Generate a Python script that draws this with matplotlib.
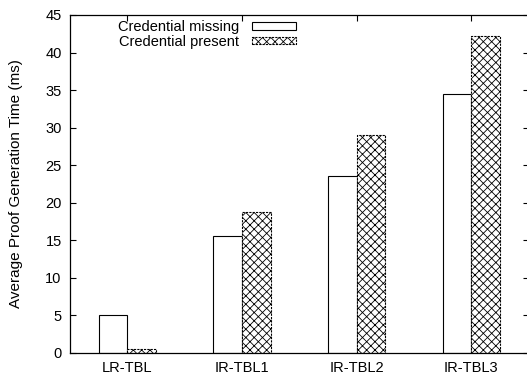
import numpy as np
import matplotlib
matplotlib.use('Agg')
import matplotlib.pyplot as plt

plt.rcParams['font.family'] = ['Liberation Sans', 'DejaVu Sans']
plt.rcParams['hatch.linewidth'] = 0.6

schemes = ['LR-TBL', 'IR-TBL1', 'IR-TBL2', 'IR-TBL3']
missing = [5.0, 15.6, 23.6, 34.5]
present = [0.5, 18.8, 29.0, 42.2]

fig = plt.figure(figsize=(5.27, 3.76), dpi=100)
ax = fig.add_axes([70/527, 23/376, 1.003 - 70/527, 338/376])

x = np.arange(len(schemes))
w = 0.25
ax.bar(x - w/2, missing, w, color='white', edgecolor='black', linewidth=0.8,
       label='Credential missing')
ax.bar(x + w/2, present, w, color='white', edgecolor='black', linewidth=0.8,
       hatch='xxxx', linestyle=(0, (2, 1)), label='Credential present')

ax.set_xlim(-0.5, 3.5)
ax.set_ylim(0, 45)
ax.set_yticks(np.arange(0, 46, 5))
ax.set_xticks(x)
ax.set_xticklabels(schemes, fontsize=10.5)
ax.tick_params(axis='y', direction='in', length=4, left=True, right=True,
               labelsize=10.5, pad=6)
ax.tick_params(axis='x', direction='in', length=4, bottom=False, top=True,
               labelsize=10.5, pad=6)
ax.set_ylabel('Average Proof Generation Time (ms)', fontsize=11, labelpad=16)
for s in ax.spines.values():
    s.set_linewidth(0.9)

ax.legend(loc='upper right', bbox_to_anchor=(296/527, 1 - 20/376),
          bbox_transform=fig.transFigure, frameon=False, markerfirst=False,
          fontsize=10.5, handlelength=3.0, handleheight=0.45, handletextpad=0.9,
          labelspacing=0.05, borderaxespad=0, borderpad=0)

fig.savefig('out.png', dpi=100)
